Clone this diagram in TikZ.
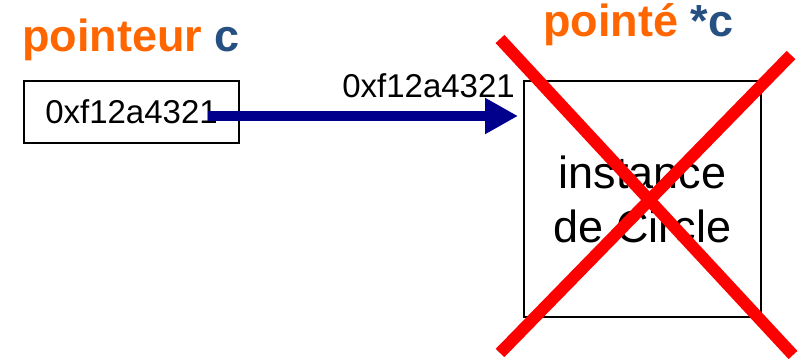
\documentclass[tikz,border=0pt]{standalone}
\usepackage{fontspec}
\setmainfont{Liberation Sans}
\usetikzlibrary{arrows.meta,positioning,calc}
\definecolor{ptrorange}{RGB}{255,102,0}
\definecolor{ptrblue}{RGB}{38,80,130}
\definecolor{arrowblue}{RGB}{0,0,140}
\definecolor{crossred}{RGB}{255,0,0}

\begin{document}
\begin{tikzpicture}[x=1pt, y=-1pt, line join=miter]
\tikzstyle{membox}=[draw=black,line width=2pt,inner sep=0pt,align=center]
\tikzstyle{title}=[font=\fontsize{45}{54}\selectfont\bfseries,inner sep=0pt]
\tikzstyle{addr}=[font=\fontsize{33}{40}\selectfont,inner sep=0pt]
\tikzstyle{ptrarrow}=[draw=arrowblue,line width=10pt,-{Triangle[length=33pt,width=34pt]}]
\useasboundingbox (0,0) rectangle (798,361);
% les deux cases
\node[membox,addr,minimum width=215pt,minimum height=62pt] (ptr) at (131.5,112)
  {0xf12a4321};
\node[membox,font=\fontsize{45}{54}\selectfont,minimum width=237pt,minimum height=236pt] (obj) at (642.5,199)
  {instance\\de Circle};
% titres
\node[title,anchor=base west] (ptrname) at (22,52)
  {\textcolor{ptrorange}{pointeur} \textcolor{ptrblue}{c}};
\node[title,anchor=base west] (objname) at (543,37)
  {\textcolor{ptrorange}{point\'e} \textcolor{ptrblue}{*c}};
% fleche
\coordinate (src) at ([xshift=-32pt,yshift=-4pt]ptr.east);
\draw[ptrarrow,shorten >=5pt] (src) -- (src -| obj.west);
\node[addr,anchor=base east] (val) at (515,97) {0xf12a4321};
% croix
\draw[crossred,line width=12pt] (500,39) -- (793,355);
\draw[crossred,line width=12pt] (791,55) -- (500,353);
\end{tikzpicture}
\end{document}
